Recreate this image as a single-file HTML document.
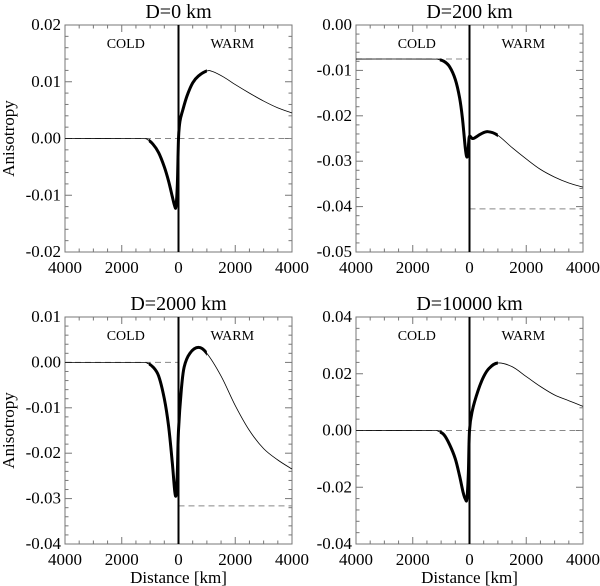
<!DOCTYPE html>
<html><head><meta charset="utf-8">
<style>
body{margin:0;background:#fff;}
svg{display:block;}
text{font-family:"Liberation Serif","DejaVu Serif",serif;}
</style></head>
<body>
<svg id="chart" width="600" height="586" viewBox="0 0 600 586" xmlns="http://www.w3.org/2000/svg" font-family="Liberation Serif, serif"></svg>
<script>
// Data
const titles = ["D=0 km","D=200 km","D=2000 km","D=10000 km"];
const yMins = [-0.02,-0.05,-0.04,-0.04];
const yMaxs = [0.02,0.00,0.01,0.04];
const yStep = [0.01,0.01,0.01,0.02];
const xs1 = [-4000,-1400,-1100,-900,-700,-500,-350,-220,-140,-90,-40,0,50,150,300,500,700,1000,1200,1600,2000,2500,3000,3500,4000];
const ys1 = [0,0,-0.0002,-0.001,-0.0025,-0.005,-0.0075,-0.0102,-0.0118,-0.012,-0.008,0,0.003,0.005,0.0075,0.0098,0.011,0.0119,0.0118,0.0108,0.0095,0.008,0.0066,0.0054,0.0045];
const xs2 = [-4000,-1400,-1100,-900,-700,-500,-350,-250,-150,-100,-60,-30,0,100,200,400,650,1000,1500,2000,2500,3000,3500,4000];
const ys2 = [-0.0075,-0.0075,-0.0076,-0.008,-0.0092,-0.012,-0.016,-0.0205,-0.027,-0.029,-0.0285,-0.026,-0.0245,-0.025,-0.0248,-0.024,-0.0235,-0.0243,-0.027,-0.0295,-0.0318,-0.0335,-0.0348,-0.0357];
const xs3 = [-4000,-1400,-1100,-900,-700,-500,-350,-220,-130,-80,-40,0,100,200,400,700,1000,1500,2000,2500,3000,3500,4000];
const ys3 = [0,0,-0.0002,-0.001,-0.003,-0.008,-0.014,-0.022,-0.0285,-0.029,-0.024,-0.015,-0.006,-0.001,0.002,0.0033,0.002,-0.003,-0.0095,-0.015,-0.019,-0.0215,-0.0235];
const xs4 = [-4000,-1400,-1100,-900,-700,-500,-350,-220,-140,-90,-40,0,100,300,500,700,1000,1500,2000,2500,3000,3500,4000];
const ys4 = [0,0,-0.0003,-0.0015,-0.005,-0.01,-0.016,-0.022,-0.0243,-0.024,-0.015,0,0.007,0.014,0.019,0.022,0.0238,0.0225,0.019,0.0155,0.0125,0.0105,0.0085];
const leftRef = [0,-0.0075,0,0];
const rightRef = [0,-0.0405,-0.0316,0];
const xTickVals = [-4000,-2000,0,2000,4000];
const xTickLabels = ["4000","2000","0","2000","4000"];

const NS="http://www.w3.org/2000/svg";
const svg=document.getElementById('chart');
const FF='"Liberation Serif", "DejaVu Serif", serif';
function mk(tag,attrs,parent){const e=document.createElementNS(NS,tag);for(const k in attrs)e.setAttribute(k,attrs[k]);if(tag==='text')e.setAttribute('font-family',FF);(parent||svg).appendChild(e);return e;}
const boxes=[{l:65,r:292,t:25,b:252},{l:356,r:583,t:25,b:252},{l:65,r:292,t:317,b:544},{l:356,r:583,t:317,b:544}];
const XS=[xs1,xs2,xs3,xs4], YS=[ys1,ys2,ys3,ys4];

boxes.forEach((B,i)=>{
  const g=mk('g',{});
  
  
  const xS=v=>B.l+(v+4000)/8000*(B.r-B.l);
  const yS=v=>B.b-(v-yMins[i])/(yMaxs[i]-yMins[i])*(B.b-B.t);
  const cid='clip'+i;
  const defs=mk('defs',{},g);
  const cp=mk('clipPath',{id:cid},defs);
  mk('rect',{x:xS(-1050),y:B.t,width:xS(1000)-xS(-1050),height:B.b-B.t},cp);
  const box=mk('rect',{x:B.l,y:B.t,width:B.r-B.l,height:B.b-B.t,fill:'none',stroke:'#777','stroke-width':1},g);
  
  
  for(let v=-4000;v<=4000;v+=500){
    const X=xS(v), len=(v%2000===0)?7:3.5;
    mk('line',{x1:X,y1:B.b,x2:X,y2:B.b-len,stroke:'#777','stroke-width':1},g);
    mk('line',{x1:X,y1:B.t,x2:X,y2:B.t+len,stroke:'#777','stroke-width':1},g);
  }
  xTickVals.forEach((v,k)=>{
    const t=mk('text',{x:xS(v),y:B.b+21,'font-size':17,'text-anchor':'middle',fill:'#000'},g);
    t.textContent=xTickLabels[k];
    
    
  });
  const st=yStep[i], minor=st/5;
  const nMin=Math.round((yMaxs[i]-yMins[i])/minor);
  for(let k=0;k<=nMin;k++){
    const v=yMins[i]+k*minor, Y=yS(v), len=(k%5===0)?7:3.5;
    mk('line',{x1:B.l,y1:Y,x2:B.l+len,y2:Y,stroke:'#777','stroke-width':1},g);
    mk('line',{x1:B.r,y1:Y,x2:B.r-len,y2:Y,stroke:'#777','stroke-width':1},g);
  }
  const nMaj=Math.round((yMaxs[i]-yMins[i])/st);
  for(let k=0;k<=nMaj;k++){
    const v=yMins[i]+k*st;
    const t=mk('text',{x:B.l-4,y:yS(v)+5,'font-size':17,'text-anchor':'end',fill:'#000'},g);
    t.textContent=(Math.abs(v)<1e-9?0:v).toFixed(2);
    
    
  }
  const d1=mk('line',{x1:xS(-4000),y1:yS(leftRef[i]),x2:xS(0),y2:yS(leftRef[i]),stroke:'#888','stroke-width':1,'stroke-dasharray':'6,4'},g);
  
  
  const d2=mk('line',{x1:xS(0),y1:yS(rightRef[i]),x2:xS(4000),y2:yS(rightRef[i]),stroke:'#888','stroke-width':1,'stroke-dasharray':'6,4'},g);
  
  
  const px=XS[i].map(xS), py=YS[i].map(yS);
  let d='M'+px[0]+','+py[0];
  for(let k=0;k<px.length-1;k++){
    const x0=px[Math.max(k-1,0)],y0=py[Math.max(k-1,0)],x1=px[k],y1=py[k],x2=px[k+1],y2=py[k+1],x3=px[Math.min(k+2,px.length-1)],y3=py[Math.min(k+2,px.length-1)];
    d+=' C'+(x1+(x2-x0)/6)+','+(y1+(y2-y0)/6)+' '+(x2-(x3-x1)/6)+','+(y2-(y3-y1)/6)+' '+x2+','+y2;
  }
  const thin=mk('path',{d:d,fill:'none',stroke:'#000','stroke-width':0.8},g);
  
  
  const thick=mk('path',{d:d,fill:'none',stroke:'#000','stroke-width':3,'clip-path':'url(#'+cid+')'},g);
  
  
  const vl=mk('line',{x1:xS(0),y1:B.t,x2:xS(0),y2:B.b,stroke:'#000','stroke-width':2},g);
  
  
  const c=mk('text',{x:xS(-2000)+4,y:B.t+23,'font-size':14,'text-anchor':'middle'},g);
  c.textContent='COLD';
  
  
  const w=mk('text',{x:xS(2000)-3,y:B.t+23,'font-size':14,'text-anchor':'middle'},g);
  w.textContent='WARM';
  
  
  const tt=mk('text',{x:(B.l+B.r)/2,y:B.t-7,'font-size':20,'text-anchor':'middle'},g);
  tt.textContent=titles[i];
  
  
  if(i%2===0){
    const cy=(B.t+B.b)/2;
    const a=mk('text',{x:14,y:cy,'font-size':17,'text-anchor':'middle',transform:'rotate(-90 14 '+cy+')'},g);
    a.textContent='Anisotropy';
    
    
  }
  if(i>=2){
    const a=mk('text',{x:(B.l+B.r)/2,y:583,'font-size':17,'text-anchor':'middle'},g);
    a.textContent='Distance [km]';
    
    
  }
});
</script>
</body></html>
